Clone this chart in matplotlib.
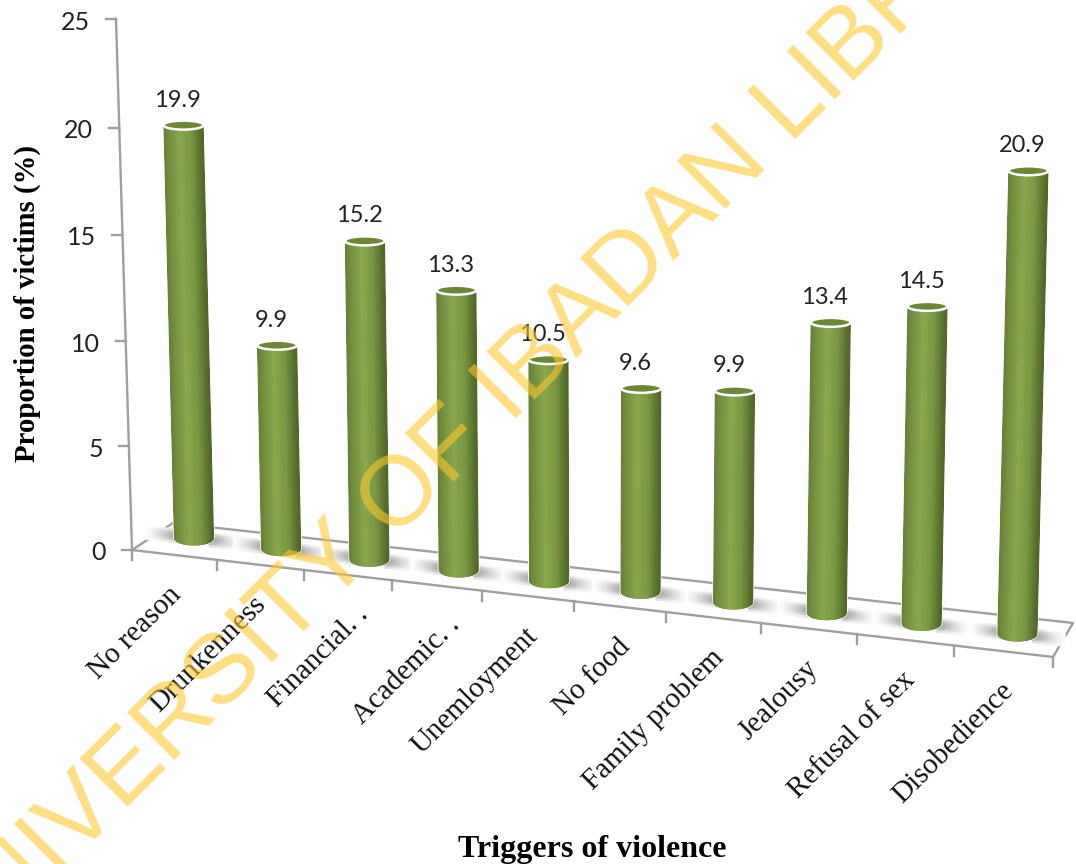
import numpy as np
import matplotlib
matplotlib.use("Agg")
import matplotlib.pyplot as plt
from matplotlib.patches import Polygon, Ellipse
from matplotlib.collections import PolyCollection
from matplotlib.colors import LinearSegmentedColormap

categories = ["No reason", "Drunkenness", "Financial. .", "Academic. .", "Unemloyment",
              "No food", "Family problem", "Jealousy", "Refusal of sex", "Disobedience"]
values = [19.9, 9.9, 15.2, 13.3, 10.5, 9.6, 9.9, 13.4, 14.5, 20.9]
y_ticks = [0, 5, 10, 15, 20, 25]
x_title = "Triggers of violence"
y_title = "Proportion of victims (%)"
watermark = "UNIVERSITY OF IBADAN LIBRARY"

fig = plt.figure(figsize=(10.76, 8.64), dpi=100)
ax = fig.add_axes([0, 0, 1, 1])
ax.set_xlim(0, 1076)
ax.set_ylim(864, 0)
ax.axis("off")

GRAY = "#9f9f9f"
body_cmap = LinearSegmentedColormap.from_list(
    "body", [(0, "#657f37"), (0.12, "#728e3d"), (0.42, "#89a74e"), (0.7, "#7a9742"),
             (0.92, "#5b732f"), (1, "#516729")])


def wall_y(v):
    return 550 - 20.67 * v - 0.0227 * v * v


def wall_x(v):
    return 132 - 16 * v / 25


def base_x(p):
    return 194 + 86.6 * p + 0.543 * p * p


def base_bottom(p):
    return 545 + 10.67 * p


def bar_scale(p):
    return 21.1 + 1.4 * p / 9


def front_edge(p):
    # p runs over category slots, 0 to 10
    x = 132 + 84.5 * p + 0.76 * p * p
    return x, 550 + (x - 132) * 107 / 921


# Floor
ax.add_patch(Polygon([(132, 550), (173, 523), (1073, 623), (1053, 657)], closed=True,
                     fc="white", ec=GRAY, lw=1.7, zorder=1, joinstyle="round"))

# Soft shadows on the floor
n = len(values)
rows = np.linspace(-1, 1, 9)
for i in range(n):
    cx = base_x(i)
    cy = base_bottom(i) - 7
    for sign in (-1, 1):
        edges = np.linspace(15, 48, 23)
        polys, cols = [], []
        for a, b in zip(edges[:-1], edges[1:]):
            xa, xb = cx + sign * a, cx + sign * b
            ya, yb = cy + sign * a * 0.116, cy + sign * b * 0.116
            for r0, r1 in zip(rows[:-1], rows[1:]):
                polys.append([(xa, ya + 7 * r0), (xb, yb + 7 * r0), (xb, yb + 7 * r1), (xa, ya + 7 * r1)])
                rm = (r0 + r1) / 2
                dark = 0.42 * (1 - (a - 15) / 33) ** 1.3 * (1 - rm * rm) ** 0.8
                shade = 1 - dark
                cols.append((shade, shade, shade, 1))
        ax.add_collection(PolyCollection(polys, facecolors=cols, edgecolors=cols,
                                         linewidths=0.4, zorder=2))

# Axis lines and ticks
ax.plot([wall_x(0), wall_x(25)], [wall_y(0), wall_y(25)], color=GRAY, lw=1.7, zorder=3)
for v in y_ticks:
    ax.plot([wall_x(v) - 10, wall_x(v)], [wall_y(v), wall_y(v)], color=GRAY, lw=1.7, zorder=3)
    ax.text(wall_x(v) - 26, wall_y(v) + 3, str(v), ha="right", va="center",
            fontsize=18, family="Lato", color="#222222", zorder=6)
for p in range(n + 1):
    x, y = front_edge(p)
    ax.plot([x, x], [y, y + 10], color=GRAY, lw=1.7, zorder=3)

# Cylinders
for i, v in enumerate(values):
    bx = base_x(i)
    by = base_bottom(i) - 7
    tx = bx + 0.117 * (i - 4.5) * v
    ty = base_bottom(i) - bar_scale(i) * v
    hw, hh = 19.5, 7.0
    ts = np.linspace(-1, 1, 61)
    polys, cols = [], []
    for a, b in zip(ts[:-1], ts[1:]):
        def lo(t):
            return (bx + hw * t, by + hh * np.sqrt(1 - t * t))

        def up(t):
            return (tx + hw * t, ty + 4.2 * np.sqrt(1 - t * t))
        polys.append([up(a), up(b), lo(b), lo(a)])
        cols.append(body_cmap((a + b + 2) / 4))
    outline = [(tx + hw * t, ty) for t in (-1, 1)] + \
              [(bx + hw * t, by + hh * np.sqrt(1 - t * t)) for t in ts[::-1]]
    ax.add_patch(Polygon(outline, closed=True, fc="white", ec="white", lw=2.0, zorder=4))
    ax.add_collection(PolyCollection(polys, facecolors=cols, edgecolors=cols, linewidths=0.8, zorder=4.2))
    ax.add_patch(Ellipse((tx, ty), 2 * hw + 1, 9, fc="#6d8738", ec="white", lw=1.8, zorder=4.5))
    ax.text(tx - 6, ty - 25, f"{v:.1f}", ha="center", va="center", fontsize=17,
            family="Lato", color="#222222", zorder=6)

# Category labels (the two clipped names sit a little further right in the original)
label_shift = {0: -3, 1: -5, 2: 10, 3: 13}
for i, c in enumerate(categories):
    x0, y0 = front_edge(i + 0.5)
    ax.text(x0 + 6 + label_shift.get(i, 0), y0 + 36, c, rotation=45, rotation_mode="anchor",
            ha="right", va="center", fontsize=21, family="Liberation Serif", color="#111111", zorder=6)

# Axis titles
ax.text(592, 849, x_title, ha="center", va="center", fontsize=23, fontweight="bold",
        family="Liberation Serif", color="black", zorder=6)
ax.text(27, 303, y_title, rotation=90, ha="center", va="center", fontsize=20.7, fontweight="bold",
        family="Liberation Serif", color="black", zorder=6)

# Watermark
ax.text(-45, 979, watermark, rotation=45, rotation_mode="anchor", ha="left", va="baseline",
        fontsize=71.3, family="Liberation Sans", color="#fdc82f", alpha=0.6, zorder=8, clip_on=True)

fig.savefig("out.png", dpi=100, facecolor="white")
